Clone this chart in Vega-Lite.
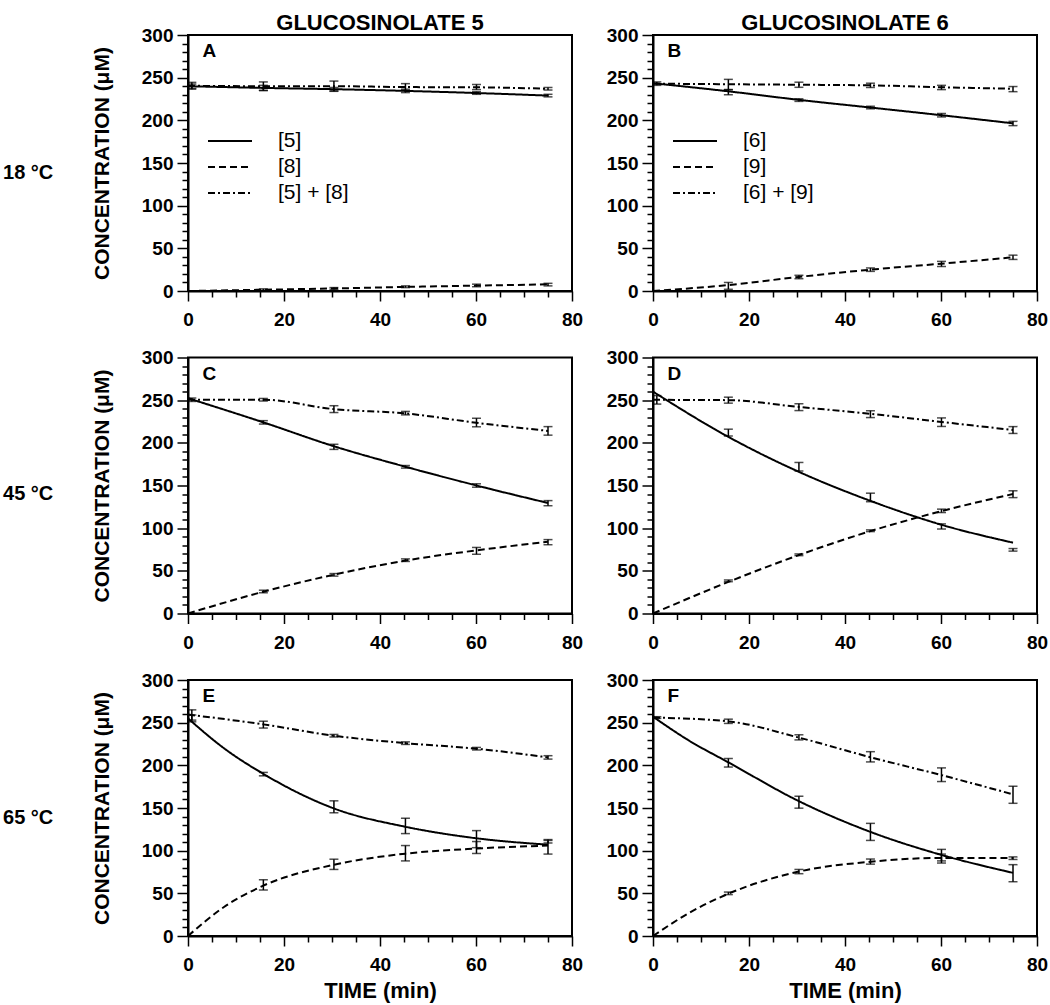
{
  "$schema": "https://vega.github.io/schema/vega-lite/v6.json",
  "padding": {"left": 3, "top": 11, "right": 0, "bottom": 0},
  "background": "white",
  "datasets": {
    "fit": [
      {"p":"A","s":"[5]","t":0,"v":240},{"p":"A","s":"[5]","t":15.7,"v":238},{"p":"A","s":"[5]","t":30.4,"v":236.5},{"p":"A","s":"[5]","t":45.3,"v":234.5},{"p":"A","s":"[5]","t":60.1,"v":232},{"p":"A","s":"[5]","t":75,"v":229},
      {"p":"A","s":"[8]","t":0,"v":0},{"p":"A","s":"[8]","t":15.7,"v":1.5},{"p":"A","s":"[8]","t":30.4,"v":3},{"p":"A","s":"[8]","t":45.3,"v":4.8},{"p":"A","s":"[8]","t":60.1,"v":6.3},{"p":"A","s":"[8]","t":75,"v":7.8},
      {"p":"A","s":"[5] + [8]","t":0,"v":240.5},{"p":"A","s":"[5] + [8]","t":15.7,"v":240},{"p":"A","s":"[5] + [8]","t":30.4,"v":240},{"p":"A","s":"[5] + [8]","t":45.3,"v":239},{"p":"A","s":"[5] + [8]","t":60.1,"v":238.7},{"p":"A","s":"[5] + [8]","t":75,"v":237},
      {"p":"B","s":"[6]","t":0,"v":243.5},{"p":"B","s":"[6]","t":15.7,"v":234},{"p":"B","s":"[6]","t":30.4,"v":224},{"p":"B","s":"[6]","t":45.3,"v":215},{"p":"B","s":"[6]","t":60.1,"v":206},{"p":"B","s":"[6]","t":75,"v":196.5},
      {"p":"B","s":"[9]","t":0,"v":0},{"p":"B","s":"[9]","t":15.7,"v":7},{"p":"B","s":"[9]","t":30.4,"v":16.5},{"p":"B","s":"[9]","t":45.3,"v":25},{"p":"B","s":"[9]","t":60.1,"v":32},{"p":"B","s":"[9]","t":75,"v":39.5},
      {"p":"B","s":"[6] + [9]","t":0,"v":243},{"p":"B","s":"[6] + [9]","t":15.7,"v":242.3},{"p":"B","s":"[6] + [9]","t":30.4,"v":241.7},{"p":"B","s":"[6] + [9]","t":45.3,"v":241},{"p":"B","s":"[6] + [9]","t":60.1,"v":238.8},{"p":"B","s":"[6] + [9]","t":75,"v":237},
      {"p":"C","s":"[5]","t":0,"v":252.3},{"p":"C","s":"[5]","t":15.7,"v":224},{"p":"C","s":"[5]","t":30.4,"v":196},{"p":"C","s":"[5]","t":45.3,"v":172},{"p":"C","s":"[5]","t":60.1,"v":150},{"p":"C","s":"[5]","t":75,"v":129.5},
      {"p":"C","s":"[8]","t":0,"v":0},{"p":"C","s":"[8]","t":15.7,"v":25.5},{"p":"C","s":"[8]","t":30.4,"v":45.5},{"p":"C","s":"[8]","t":45.3,"v":62},{"p":"C","s":"[8]","t":60.1,"v":74},{"p":"C","s":"[8]","t":75,"v":84},
      {"p":"C","s":"[5] + [8]","t":0,"v":250.4},{"p":"C","s":"[5] + [8]","t":15.7,"v":250.5},{"p":"C","s":"[5] + [8]","t":30.4,"v":239.5},{"p":"C","s":"[5] + [8]","t":45.3,"v":234.5},{"p":"C","s":"[5] + [8]","t":60.1,"v":223.5},{"p":"C","s":"[5] + [8]","t":75,"v":214},
      {"p":"D","s":"[6]","t":0,"v":260},{"p":"D","s":"[6]","t":15.7,"v":207},{"p":"D","s":"[6]","t":30.4,"v":166},{"p":"D","s":"[6]","t":45.3,"v":132},{"p":"D","s":"[6]","t":60.1,"v":104},{"p":"D","s":"[6]","t":75,"v":83},
      {"p":"D","s":"[9]","t":0,"v":0},{"p":"D","s":"[9]","t":15.7,"v":37},{"p":"D","s":"[9]","t":30.4,"v":68.5},{"p":"D","s":"[9]","t":45.3,"v":96.5},{"p":"D","s":"[9]","t":60.1,"v":120},{"p":"D","s":"[9]","t":75,"v":140},
      {"p":"D","s":"[6] + [9]","t":0,"v":250.4},{"p":"D","s":"[6] + [9]","t":15.7,"v":250},{"p":"D","s":"[6] + [9]","t":30.4,"v":242},{"p":"D","s":"[6] + [9]","t":45.3,"v":234},{"p":"D","s":"[6] + [9]","t":60.1,"v":224.5},{"p":"D","s":"[6] + [9]","t":75,"v":215},
      {"p":"E","s":"[5]","t":0,"v":255},{"p":"E","s":"[5]","t":7.5,"v":220},{"p":"E","s":"[5]","t":15.7,"v":190},{"p":"E","s":"[5]","t":30.4,"v":149.5},{"p":"E","s":"[5]","t":45.3,"v":128},{"p":"E","s":"[5]","t":60.1,"v":114.5},{"p":"E","s":"[5]","t":75,"v":107},
      {"p":"E","s":"[8]","t":0,"v":0},{"p":"E","s":"[8]","t":7.5,"v":34},{"p":"E","s":"[8]","t":15.7,"v":59},{"p":"E","s":"[8]","t":30.4,"v":83.5},{"p":"E","s":"[8]","t":45.3,"v":96.5},{"p":"E","s":"[8]","t":60.1,"v":102.5},{"p":"E","s":"[8]","t":75,"v":106},
      {"p":"E","s":"[5] + [8]","t":0,"v":259.5},{"p":"E","s":"[5] + [8]","t":15.7,"v":248},{"p":"E","s":"[5] + [8]","t":30.4,"v":234.7},{"p":"E","s":"[5] + [8]","t":45.3,"v":226},{"p":"E","s":"[5] + [8]","t":60.1,"v":219.5},{"p":"E","s":"[5] + [8]","t":75,"v":209.3},
      {"p":"F","s":"[6]","t":0,"v":257},{"p":"F","s":"[6]","t":7.5,"v":229},{"p":"F","s":"[6]","t":15.7,"v":203.5},{"p":"F","s":"[6]","t":30.4,"v":158},{"p":"F","s":"[6]","t":45.3,"v":122},{"p":"F","s":"[6]","t":60.1,"v":95},{"p":"F","s":"[6]","t":75,"v":74},
      {"p":"F","s":"[9]","t":0,"v":0},{"p":"F","s":"[9]","t":7.5,"v":27},{"p":"F","s":"[9]","t":15.7,"v":49.5},{"p":"F","s":"[9]","t":30.4,"v":75.5},{"p":"F","s":"[9]","t":45.3,"v":87},{"p":"F","s":"[9]","t":60.1,"v":91.5},{"p":"F","s":"[9]","t":75,"v":91.5},
      {"p":"F","s":"[6] + [9]","t":0,"v":256},{"p":"F","s":"[6] + [9]","t":15.7,"v":251.5},{"p":"F","s":"[6] + [9]","t":30.4,"v":232.5},{"p":"F","s":"[6] + [9]","t":45.3,"v":209.5},{"p":"F","s":"[6] + [9]","t":60.1,"v":188.5},{"p":"F","s":"[6] + [9]","t":75,"v":166}
    ],
    "obs": [
      {"p":"A","t":0.8,"lo":237.5,"hi":242.5},{"p":"A","t":15.7,"lo":235,"hi":241},{"p":"A","t":30.4,"lo":234.5,"hi":238.5},{"p":"A","t":45.3,"lo":232.5,"hi":236.5},{"p":"A","t":60.1,"lo":230.5,"hi":233.5},{"p":"A","t":75,"lo":227.5,"hi":230.5},
      {"p":"A","t":15.7,"lo":0.5,"hi":2.5},{"p":"A","t":30.4,"lo":2,"hi":4},{"p":"A","t":45.3,"lo":4,"hi":6},{"p":"A","t":60.1,"lo":5,"hi":8},{"p":"A","t":75,"lo":6,"hi":9},
      {"p":"A","t":0.8,"lo":236.5,"hi":244.5},{"p":"A","t":15.7,"lo":235,"hi":245},{"p":"A","t":30.4,"lo":234,"hi":246},{"p":"A","t":45.3,"lo":235,"hi":243},{"p":"A","t":60.1,"lo":236,"hi":242},{"p":"A","t":75,"lo":235.5,"hi":238.5},
      {"p":"B","t":0.8,"lo":241,"hi":245},{"p":"B","t":15.7,"lo":230,"hi":236},{"p":"B","t":30.4,"lo":222.2,"hi":225.2},{"p":"B","t":45.3,"lo":213.5,"hi":216.5},{"p":"B","t":60.1,"lo":204,"hi":208},{"p":"B","t":75,"lo":193.8,"hi":198.8},
      {"p":"B","t":15.7,"lo":2,"hi":10},{"p":"B","t":30.4,"lo":14.4,"hi":18.4},{"p":"B","t":45.3,"lo":23,"hi":27},{"p":"B","t":60.1,"lo":28.7,"hi":34.7},{"p":"B","t":75,"lo":37,"hi":42},
      {"p":"B","t":15.7,"lo":236,"hi":248},{"p":"B","t":30.4,"lo":238.7,"hi":244.7},{"p":"B","t":45.3,"lo":238.5,"hi":243.5},{"p":"B","t":60.1,"lo":236,"hi":241},{"p":"B","t":75,"lo":233.6,"hi":239.6},
      {"p":"C","t":0.8,"lo":248.5,"hi":252.5},{"p":"C","t":15.7,"lo":222,"hi":226},{"p":"C","t":30.4,"lo":192.3,"hi":198.3},{"p":"C","t":45.3,"lo":170.4,"hi":173.4},{"p":"C","t":60.1,"lo":148,"hi":152},{"p":"C","t":75,"lo":126.3,"hi":132.3},
      {"p":"C","t":15.7,"lo":24.3,"hi":27.3},{"p":"C","t":30.4,"lo":43.8,"hi":46.8},{"p":"C","t":45.3,"lo":61,"hi":64},{"p":"C","t":60.1,"lo":69.4,"hi":77.4},{"p":"C","t":75,"lo":80.6,"hi":86.6},
      {"p":"C","t":15.7,"lo":249,"hi":252},{"p":"C","t":30.4,"lo":235.5,"hi":243.5},{"p":"C","t":45.3,"lo":232.8,"hi":236.8},{"p":"C","t":60.1,"lo":218.8,"hi":228.8},{"p":"C","t":75,"lo":209,"hi":219},
      {"p":"D","t":0.8,"lo":245.4,"hi":255.4},{"p":"D","t":15.7,"lo":208,"hi":216},{"p":"D","t":30.4,"lo":167,"hi":177},{"p":"D","t":45.3,"lo":131,"hi":141},{"p":"D","t":60.1,"lo":99,"hi":105},{"p":"D","t":75,"lo":73.1,"hi":76.1},
      {"p":"D","t":15.7,"lo":37.3,"hi":39.3},{"p":"D","t":30.4,"lo":67.8,"hi":69.8},{"p":"D","t":45.3,"lo":96,"hi":98},{"p":"D","t":60.1,"lo":118.3,"hi":122.3},{"p":"D","t":75,"lo":135.8,"hi":143.8},
      {"p":"D","t":15.7,"lo":246.5,"hi":253.5},{"p":"D","t":30.4,"lo":237.8,"hi":245.8},{"p":"D","t":45.3,"lo":229.6,"hi":237.6},{"p":"D","t":60.1,"lo":219.2,"hi":229.2},{"p":"D","t":75,"lo":211,"hi":219},
      {"p":"E","t":0.8,"lo":251,"hi":259},{"p":"E","t":15.7,"lo":187.7,"hi":191.7},{"p":"E","t":30.4,"lo":144.4,"hi":158.4},{"p":"E","t":45.3,"lo":120,"hi":138},{"p":"E","t":60.1,"lo":103.5,"hi":123.5},{"p":"E","t":75,"lo":109,"hi":113},
      {"p":"E","t":15.7,"lo":53.9,"hi":65.9},{"p":"E","t":30.4,"lo":78,"hi":90},{"p":"E","t":45.3,"lo":88,"hi":106},{"p":"E","t":60.1,"lo":96.7,"hi":110.7},{"p":"E","t":75,"lo":96,"hi":112},
      {"p":"E","t":0.8,"lo":253,"hi":265},{"p":"E","t":15.7,"lo":243.7,"hi":251.7},{"p":"E","t":30.4,"lo":233.2,"hi":236.2},{"p":"E","t":45.3,"lo":224.5,"hi":227.5},{"p":"E","t":60.1,"lo":218,"hi":221},{"p":"E","t":75,"lo":207.3,"hi":211.3},
      {"p":"F","t":0.8,"lo":255,"hi":257},{"p":"F","t":15.7,"lo":198,"hi":208},{"p":"F","t":30.4,"lo":149.8,"hi":163.8},{"p":"F","t":45.3,"lo":112,"hi":132},{"p":"F","t":60.1,"lo":85.5,"hi":101.5},{"p":"F","t":75,"lo":63.6,"hi":83.6},
      {"p":"F","t":15.7,"lo":48.5,"hi":51.5},{"p":"F","t":30.4,"lo":73,"hi":78},{"p":"F","t":45.3,"lo":84.2,"hi":90.2},{"p":"F","t":60.1,"lo":88,"hi":96},{"p":"F","t":75,"lo":89.7,"hi":92.7},
      {"p":"F","t":15.7,"lo":249.1,"hi":254.1},{"p":"F","t":30.4,"lo":229.8,"hi":235.8},{"p":"F","t":45.3,"lo":204,"hi":216},{"p":"F","t":60.1,"lo":181,"hi":197},{"p":"F","t":75,"lo":155.5,"hi":175.5}
    ]
  },
  "config": {
    "view": {"stroke": "black", "strokeWidth": 2},
    "axis": {"grid": false, "domainColor": "black", "domainWidth": 2, "tickColor": "black", "tickWidth": 1.5, "labelFont": "Liberation Sans", "labelFontSize": 19, "labelFontWeight": "bold", "labelColor": "black", "titleColor": "black", "labelFlush": false, "labelOverlap": false, "labelBound": false},
    "title": {"color": "black"}
  },
  "vconcat": [
    {
      "title": {"text": "18 °C", "orient": "left", "angle": 0, "anchor": "middle", "align": "left", "baseline": "middle", "offset": 37, "dy": 2, "fontSize": 20, "font": "Liberation Sans", "fontWeight": "bold", "color": "black"},
      "bounds": "flush", "spacing": 81,
      "resolve": {"scale": {"strokeDash": "independent"}, "legend": {"strokeDash": "independent"}},
      "hconcat": [
        {
          "width": 384, "height": 256,
          "title": {"text": "GLUCOSINOLATE 5", "fontSize": 22, "font": "Liberation Sans", "fontWeight": "bold", "anchor": "middle", "frame": "group", "offset": -9},
          "resolve": {"scale": {"x": "independent", "y": "independent"}},
          "layer": [
            {"layer": [
              {"data": {"name": "fit"}, "transform": [{"filter": "datum.p === 'A'"}],
               "mark": {"type": "line", "interpolate": "monotone", "color": "black", "strokeWidth": 2},
               "encoding": {
                 "x": {"field": "t", "type": "quantitative", "scale": {"domain": [0, 80], "nice": false}, "axis": {"values": [0,20,40,60,80], "tickSize": 10, "labelPadding": 9.5, "title": null}},
                 "y": {"field": "v", "type": "quantitative", "scale": {"domain": [0, 300], "nice": false}, "axis": {"values": [0,50,100,150,200,250,300], "tickSize": 11, "labelPadding": 4, "title": "CONCENTRATION (μM)", "titleFont": "Liberation Sans", "titleFontSize": 21, "titleFontWeight": "bold", "titlePadding": 29}},
                 "strokeDash": {"field": "s", "type": "nominal", "scale": {"domain": ["[5]", "[8]", "[5] + [8]"], "range": [[1, 0], [7, 4], [7, 3, 2, 3]]},
                   "legend": {"orient": "none", "legendX": 30, "legendY": 94, "title": null, "symbolType": "M-2,0H2", "symbolSize": 484, "symbolStrokeWidth": 2, "symbolStrokeColor": "black", "symbolFillColor": "transparent", "labelFontSize": 21, "labelFont": "Liberation Sans", "labelColor": "black", "labelOffset": 36, "rowPadding": 4, "padding": 0, "direction": "vertical"}}
               }},
              {"data": {"name": "obs"}, "transform": [{"filter": "datum.p === 'A'"}], "mark": {"type": "rule", "color": "black", "strokeWidth": 1.5},
               "encoding": {"x": {"field": "t", "type": "quantitative"}, "y": {"field": "lo", "type": "quantitative"}, "y2": {"field": "hi"}}},
              {"data": {"name": "obs"}, "transform": [{"filter": "datum.p === 'A'"}], "mark": {"type": "tick", "orient": "horizontal", "size": 9, "thickness": 1.5, "color": "black"},
               "encoding": {"x": {"field": "t", "type": "quantitative"}, "y": {"field": "lo", "type": "quantitative"}}},
              {"data": {"name": "obs"}, "transform": [{"filter": "datum.p === 'A'"}], "mark": {"type": "tick", "orient": "horizontal", "size": 9, "thickness": 1.5, "color": "black"},
               "encoding": {"x": {"field": "t", "type": "quantitative"}, "y": {"field": "hi", "type": "quantitative"}}},
              {"data": {"values": [{}]}, "mark": {"type": "text", "align": "left", "baseline": "middle", "fontSize": 19, "font": "Liberation Sans", "fontWeight": "bold", "color": "black"},
               "encoding": {"x": {"datum": 3}, "y": {"datum": 281}, "text": {"value": "A"}}}
            ]},
            {"data": {"name": "fit"}, "transform": [{"filter": "datum.p === 'A'"}], "mark": {"type": "point", "opacity": 0},
             "encoding": {
               "x": {"field": "t", "type": "quantitative", "scale": {"domain": [0, 80], "nice": false}, "axis": {"orient": "bottom", "values": [5,10,15,25,30,35,45,50,55,65,70,75], "tickSize": 6, "labels": false, "domain": false, "title": null}},
               "y": {"field": "v", "type": "quantitative", "scale": {"domain": [0, 300], "nice": false}, "axis": {"orient": "left", "values": [10,20,30,40,60,70,80,90,110,120,130,140,160,170,180,190,210,220,230,240,260,270,280,290], "tickSize": 6, "labels": false, "domain": false, "title": null}}
             }}
          ]
        },
        {
          "width": 384, "height": 256,
          "title": {"text": "GLUCOSINOLATE 6", "fontSize": 22, "font": "Liberation Sans", "fontWeight": "bold", "anchor": "middle", "frame": "group", "offset": -9},
          "resolve": {"scale": {"x": "independent", "y": "independent"}},
          "layer": [
            {"layer": [
              {"data": {"name": "fit"}, "transform": [{"filter": "datum.p === 'B'"}],
               "mark": {"type": "line", "interpolate": "monotone", "color": "black", "strokeWidth": 2},
               "encoding": {
                 "x": {"field": "t", "type": "quantitative", "scale": {"domain": [0, 80], "nice": false}, "axis": {"values": [0,20,40,60,80], "tickSize": 10, "labelPadding": 9.5, "title": null}},
                 "y": {"field": "v", "type": "quantitative", "scale": {"domain": [0, 300], "nice": false}, "axis": {"values": [0,50,100,150,200,250,300], "tickSize": 11, "labelPadding": 4, "title": null}},
                 "strokeDash": {"field": "s", "type": "nominal", "scale": {"domain": ["[6]", "[9]", "[6] + [9]"], "range": [[1, 0], [7, 4], [7, 3, 2, 3]]},
                   "legend": {"orient": "none", "legendX": 30, "legendY": 94, "title": null, "symbolType": "M-2,0H2", "symbolSize": 484, "symbolStrokeWidth": 2, "symbolStrokeColor": "black", "symbolFillColor": "transparent", "labelFontSize": 21, "labelFont": "Liberation Sans", "labelColor": "black", "labelOffset": 36, "rowPadding": 4, "padding": 0, "direction": "vertical"}}
               }},
              {"data": {"name": "obs"}, "transform": [{"filter": "datum.p === 'B'"}], "mark": {"type": "rule", "color": "black", "strokeWidth": 1.5},
               "encoding": {"x": {"field": "t", "type": "quantitative"}, "y": {"field": "lo", "type": "quantitative"}, "y2": {"field": "hi"}}},
              {"data": {"name": "obs"}, "transform": [{"filter": "datum.p === 'B'"}], "mark": {"type": "tick", "orient": "horizontal", "size": 9, "thickness": 1.5, "color": "black"},
               "encoding": {"x": {"field": "t", "type": "quantitative"}, "y": {"field": "lo", "type": "quantitative"}}},
              {"data": {"name": "obs"}, "transform": [{"filter": "datum.p === 'B'"}], "mark": {"type": "tick", "orient": "horizontal", "size": 9, "thickness": 1.5, "color": "black"},
               "encoding": {"x": {"field": "t", "type": "quantitative"}, "y": {"field": "hi", "type": "quantitative"}}},
              {"data": {"values": [{}]}, "mark": {"type": "text", "align": "left", "baseline": "middle", "fontSize": 19, "font": "Liberation Sans", "fontWeight": "bold", "color": "black"},
               "encoding": {"x": {"datum": 3}, "y": {"datum": 281}, "text": {"value": "B"}}}
            ]},
            {"data": {"name": "fit"}, "transform": [{"filter": "datum.p === 'B'"}], "mark": {"type": "point", "opacity": 0},
             "encoding": {
               "x": {"field": "t", "type": "quantitative", "scale": {"domain": [0, 80], "nice": false}, "axis": {"orient": "bottom", "values": [5,10,15,25,30,35,45,50,55,65,70,75], "tickSize": 6, "labels": false, "domain": false, "title": null}},
               "y": {"field": "v", "type": "quantitative", "scale": {"domain": [0, 300], "nice": false}, "axis": {"orient": "left", "values": [10,20,30,40,60,70,80,90,110,120,130,140,160,170,180,190,210,220,230,240,260,270,280,290], "tickSize": 6, "labels": false, "domain": false, "title": null}}
             }}
          ]
        }
      ]
    },
    {
      "title": {"text": "45 °C", "orient": "left", "angle": 0, "anchor": "middle", "align": "left", "baseline": "middle", "offset": 37, "dy": -6, "fontSize": 20, "font": "Liberation Sans", "fontWeight": "bold", "color": "black"},
      "bounds": "flush", "spacing": 81,
      "resolve": {"scale": {"strokeDash": "independent"}, "legend": {"strokeDash": "independent"}},
      "hconcat": [
        {
          "width": 384, "height": 256,
          "resolve": {"scale": {"x": "independent", "y": "independent"}},
          "layer": [
            {"layer": [
              {"data": {"name": "fit"}, "transform": [{"filter": "datum.p === 'C'"}],
               "mark": {"type": "line", "interpolate": "monotone", "color": "black", "strokeWidth": 2},
               "encoding": {
                 "x": {"field": "t", "type": "quantitative", "scale": {"domain": [0, 80], "nice": false}, "axis": {"values": [0,20,40,60,80], "tickSize": 10, "labelPadding": 9.5, "title": null}},
                 "y": {"field": "v", "type": "quantitative", "scale": {"domain": [0, 300], "nice": false}, "axis": {"values": [0,50,100,150,200,250,300], "tickSize": 11, "labelPadding": 4, "title": "CONCENTRATION (μM)", "titleFont": "Liberation Sans", "titleFontSize": 21, "titleFontWeight": "bold", "titlePadding": 29}},
                 "strokeDash": {"field": "s", "type": "nominal", "scale": {"domain": ["[5]", "[8]", "[5] + [8]"], "range": [[1, 0], [7, 4], [7, 3, 2, 3]]}, "legend": null}
               }},
              {"data": {"name": "obs"}, "transform": [{"filter": "datum.p === 'C'"}], "mark": {"type": "rule", "color": "black", "strokeWidth": 1.5},
               "encoding": {"x": {"field": "t", "type": "quantitative"}, "y": {"field": "lo", "type": "quantitative"}, "y2": {"field": "hi"}}},
              {"data": {"name": "obs"}, "transform": [{"filter": "datum.p === 'C'"}], "mark": {"type": "tick", "orient": "horizontal", "size": 9, "thickness": 1.5, "color": "black"},
               "encoding": {"x": {"field": "t", "type": "quantitative"}, "y": {"field": "lo", "type": "quantitative"}}},
              {"data": {"name": "obs"}, "transform": [{"filter": "datum.p === 'C'"}], "mark": {"type": "tick", "orient": "horizontal", "size": 9, "thickness": 1.5, "color": "black"},
               "encoding": {"x": {"field": "t", "type": "quantitative"}, "y": {"field": "hi", "type": "quantitative"}}},
              {"data": {"values": [{}]}, "mark": {"type": "text", "align": "left", "baseline": "middle", "fontSize": 19, "font": "Liberation Sans", "fontWeight": "bold", "color": "black"},
               "encoding": {"x": {"datum": 3}, "y": {"datum": 281}, "text": {"value": "C"}}}
            ]},
            {"data": {"name": "fit"}, "transform": [{"filter": "datum.p === 'C'"}], "mark": {"type": "point", "opacity": 0},
             "encoding": {
               "x": {"field": "t", "type": "quantitative", "scale": {"domain": [0, 80], "nice": false}, "axis": {"orient": "bottom", "values": [5,10,15,25,30,35,45,50,55,65,70,75], "tickSize": 6, "labels": false, "domain": false, "title": null}},
               "y": {"field": "v", "type": "quantitative", "scale": {"domain": [0, 300], "nice": false}, "axis": {"orient": "left", "values": [10,20,30,40,60,70,80,90,110,120,130,140,160,170,180,190,210,220,230,240,260,270,280,290], "tickSize": 6, "labels": false, "domain": false, "title": null}}
             }}
          ]
        },
        {
          "width": 384, "height": 256,
          "resolve": {"scale": {"x": "independent", "y": "independent"}},
          "layer": [
            {"layer": [
              {"data": {"name": "fit"}, "transform": [{"filter": "datum.p === 'D'"}],
               "mark": {"type": "line", "interpolate": "monotone", "color": "black", "strokeWidth": 2},
               "encoding": {
                 "x": {"field": "t", "type": "quantitative", "scale": {"domain": [0, 80], "nice": false}, "axis": {"values": [0,20,40,60,80], "tickSize": 10, "labelPadding": 9.5, "title": null}},
                 "y": {"field": "v", "type": "quantitative", "scale": {"domain": [0, 300], "nice": false}, "axis": {"values": [0,50,100,150,200,250,300], "tickSize": 11, "labelPadding": 4, "title": null}},
                 "strokeDash": {"field": "s", "type": "nominal", "scale": {"domain": ["[6]", "[9]", "[6] + [9]"], "range": [[1, 0], [7, 4], [7, 3, 2, 3]]}, "legend": null}
               }},
              {"data": {"name": "obs"}, "transform": [{"filter": "datum.p === 'D'"}], "mark": {"type": "rule", "color": "black", "strokeWidth": 1.5},
               "encoding": {"x": {"field": "t", "type": "quantitative"}, "y": {"field": "lo", "type": "quantitative"}, "y2": {"field": "hi"}}},
              {"data": {"name": "obs"}, "transform": [{"filter": "datum.p === 'D'"}], "mark": {"type": "tick", "orient": "horizontal", "size": 9, "thickness": 1.5, "color": "black"},
               "encoding": {"x": {"field": "t", "type": "quantitative"}, "y": {"field": "lo", "type": "quantitative"}}},
              {"data": {"name": "obs"}, "transform": [{"filter": "datum.p === 'D'"}], "mark": {"type": "tick", "orient": "horizontal", "size": 9, "thickness": 1.5, "color": "black"},
               "encoding": {"x": {"field": "t", "type": "quantitative"}, "y": {"field": "hi", "type": "quantitative"}}},
              {"data": {"values": [{}]}, "mark": {"type": "text", "align": "left", "baseline": "middle", "fontSize": 19, "font": "Liberation Sans", "fontWeight": "bold", "color": "black"},
               "encoding": {"x": {"datum": 3}, "y": {"datum": 281}, "text": {"value": "D"}}}
            ]},
            {"data": {"name": "fit"}, "transform": [{"filter": "datum.p === 'D'"}], "mark": {"type": "point", "opacity": 0},
             "encoding": {
               "x": {"field": "t", "type": "quantitative", "scale": {"domain": [0, 80], "nice": false}, "axis": {"orient": "bottom", "values": [5,10,15,25,30,35,45,50,55,65,70,75], "tickSize": 6, "labels": false, "domain": false, "title": null}},
               "y": {"field": "v", "type": "quantitative", "scale": {"domain": [0, 300], "nice": false}, "axis": {"orient": "left", "values": [10,20,30,40,60,70,80,90,110,120,130,140,160,170,180,190,210,220,230,240,260,270,280,290], "tickSize": 6, "labels": false, "domain": false, "title": null}}
             }}
          ]
        }
      ]
    },
    {
      "title": {"text": "65 °C", "orient": "left", "angle": 0, "anchor": "middle", "align": "left", "baseline": "middle", "offset": 37, "dy": -18, "fontSize": 20, "font": "Liberation Sans", "fontWeight": "bold", "color": "black"},
      "bounds": "flush", "spacing": 81,
      "resolve": {"scale": {"strokeDash": "independent"}, "legend": {"strokeDash": "independent"}},
      "hconcat": [
        {
          "width": 384, "height": 256,
          "resolve": {"scale": {"x": "independent", "y": "independent"}},
          "layer": [
            {"layer": [
              {"data": {"name": "fit"}, "transform": [{"filter": "datum.p === 'E'"}],
               "mark": {"type": "line", "interpolate": "monotone", "color": "black", "strokeWidth": 2},
               "encoding": {
                 "x": {"field": "t", "type": "quantitative", "scale": {"domain": [0, 80], "nice": false}, "axis": {"values": [0,20,40,60,80], "tickSize": 10, "labelPadding": 9.5, "title": "TIME (min)", "titleFont": "Liberation Sans", "titleFontSize": 22, "titleFontWeight": "bold", "titlePadding": 6}},
                 "y": {"field": "v", "type": "quantitative", "scale": {"domain": [0, 300], "nice": false}, "axis": {"values": [0,50,100,150,200,250,300], "tickSize": 11, "labelPadding": 4, "title": "CONCENTRATION (μM)", "titleFont": "Liberation Sans", "titleFontSize": 21, "titleFontWeight": "bold", "titlePadding": 29}},
                 "strokeDash": {"field": "s", "type": "nominal", "scale": {"domain": ["[5]", "[8]", "[5] + [8]"], "range": [[1, 0], [7, 4], [7, 3, 2, 3]]}, "legend": null}
               }},
              {"data": {"name": "obs"}, "transform": [{"filter": "datum.p === 'E'"}], "mark": {"type": "rule", "color": "black", "strokeWidth": 1.5},
               "encoding": {"x": {"field": "t", "type": "quantitative"}, "y": {"field": "lo", "type": "quantitative"}, "y2": {"field": "hi"}}},
              {"data": {"name": "obs"}, "transform": [{"filter": "datum.p === 'E'"}], "mark": {"type": "tick", "orient": "horizontal", "size": 9, "thickness": 1.5, "color": "black"},
               "encoding": {"x": {"field": "t", "type": "quantitative"}, "y": {"field": "lo", "type": "quantitative"}}},
              {"data": {"name": "obs"}, "transform": [{"filter": "datum.p === 'E'"}], "mark": {"type": "tick", "orient": "horizontal", "size": 9, "thickness": 1.5, "color": "black"},
               "encoding": {"x": {"field": "t", "type": "quantitative"}, "y": {"field": "hi", "type": "quantitative"}}},
              {"data": {"values": [{}]}, "mark": {"type": "text", "align": "left", "baseline": "middle", "fontSize": 19, "font": "Liberation Sans", "fontWeight": "bold", "color": "black"},
               "encoding": {"x": {"datum": 3}, "y": {"datum": 281}, "text": {"value": "E"}}}
            ]},
            {"data": {"name": "fit"}, "transform": [{"filter": "datum.p === 'E'"}], "mark": {"type": "point", "opacity": 0},
             "encoding": {
               "x": {"field": "t", "type": "quantitative", "scale": {"domain": [0, 80], "nice": false}, "axis": {"orient": "bottom", "values": [5,10,15,25,30,35,45,50,55,65,70,75], "tickSize": 6, "labels": false, "domain": false, "title": null}},
               "y": {"field": "v", "type": "quantitative", "scale": {"domain": [0, 300], "nice": false}, "axis": {"orient": "left", "values": [10,20,30,40,60,70,80,90,110,120,130,140,160,170,180,190,210,220,230,240,260,270,280,290], "tickSize": 6, "labels": false, "domain": false, "title": null}}
             }}
          ]
        },
        {
          "width": 384, "height": 256,
          "resolve": {"scale": {"x": "independent", "y": "independent"}},
          "layer": [
            {"layer": [
              {"data": {"name": "fit"}, "transform": [{"filter": "datum.p === 'F'"}],
               "mark": {"type": "line", "interpolate": "monotone", "color": "black", "strokeWidth": 2},
               "encoding": {
                 "x": {"field": "t", "type": "quantitative", "scale": {"domain": [0, 80], "nice": false}, "axis": {"values": [0,20,40,60,80], "tickSize": 10, "labelPadding": 9.5, "title": "TIME (min)", "titleFont": "Liberation Sans", "titleFontSize": 22, "titleFontWeight": "bold", "titlePadding": 6}},
                 "y": {"field": "v", "type": "quantitative", "scale": {"domain": [0, 300], "nice": false}, "axis": {"values": [0,50,100,150,200,250,300], "tickSize": 11, "labelPadding": 4, "title": null}},
                 "strokeDash": {"field": "s", "type": "nominal", "scale": {"domain": ["[6]", "[9]", "[6] + [9]"], "range": [[1, 0], [7, 4], [7, 3, 2, 3]]}, "legend": null}
               }},
              {"data": {"name": "obs"}, "transform": [{"filter": "datum.p === 'F'"}], "mark": {"type": "rule", "color": "black", "strokeWidth": 1.5},
               "encoding": {"x": {"field": "t", "type": "quantitative"}, "y": {"field": "lo", "type": "quantitative"}, "y2": {"field": "hi"}}},
              {"data": {"name": "obs"}, "transform": [{"filter": "datum.p === 'F'"}], "mark": {"type": "tick", "orient": "horizontal", "size": 9, "thickness": 1.5, "color": "black"},
               "encoding": {"x": {"field": "t", "type": "quantitative"}, "y": {"field": "lo", "type": "quantitative"}}},
              {"data": {"name": "obs"}, "transform": [{"filter": "datum.p === 'F'"}], "mark": {"type": "tick", "orient": "horizontal", "size": 9, "thickness": 1.5, "color": "black"},
               "encoding": {"x": {"field": "t", "type": "quantitative"}, "y": {"field": "hi", "type": "quantitative"}}},
              {"data": {"values": [{}]}, "mark": {"type": "text", "align": "left", "baseline": "middle", "fontSize": 19, "font": "Liberation Sans", "fontWeight": "bold", "color": "black"},
               "encoding": {"x": {"datum": 3}, "y": {"datum": 281}, "text": {"value": "F"}}}
            ]},
            {"data": {"name": "fit"}, "transform": [{"filter": "datum.p === 'F'"}], "mark": {"type": "point", "opacity": 0},
             "encoding": {
               "x": {"field": "t", "type": "quantitative", "scale": {"domain": [0, 80], "nice": false}, "axis": {"orient": "bottom", "values": [5,10,15,25,30,35,45,50,55,65,70,75], "tickSize": 6, "labels": false, "domain": false, "title": null}},
               "y": {"field": "v", "type": "quantitative", "scale": {"domain": [0, 300], "nice": false}, "axis": {"orient": "left", "values": [10,20,30,40,60,70,80,90,110,120,130,140,160,170,180,190,210,220,230,240,260,270,280,290], "tickSize": 6, "labels": false, "domain": false, "title": null}}
             }}
          ]
        }
      ]
    }
  ],
  "spacing": 16.5,
  "resolve": {"scale": {"strokeDash": "independent"}, "legend": {"strokeDash": "independent"}}
}
